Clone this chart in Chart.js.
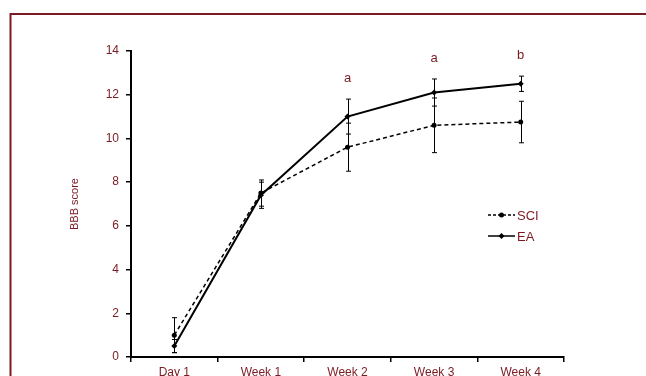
<!DOCTYPE html>
<html>
<head>
<meta charset="utf-8">
<script src="https://cdn.jsdelivr.net/npm/chart.js@4"></script>
<style>
  html, body { margin: 0; padding: 0; background: #fff; }
  #wrap { width: 646px; height: 376px; }
</style>
</head>
<body>
<div id="wrap"><canvas id="bbbChart" width="646" height="376"></canvas></div>
<script>
// data
const timepoints = ['Day 1', 'Week 1', 'Week 2', 'Week 3', 'Week 4'];
const sciMean = [1.0, 7.5, 9.6, 10.6, 10.75];
const sciErr = [0.8, 0.6, 1.1, 1.25, 0.95];
const eaMean = [0.5, 7.4, 11.0, 12.1, 12.5];
const eaErr = [0.3, 0.6, 0.8, 0.62, 0.35];
const sigLetters = ['', '', 'a', 'a', 'b'];
const yTicks = [0, 2, 4, 6, 8, 10, 12, 14];

const RED = '#7a1a22';
const FONT = 'Liberation Sans, Arial, sans-serif';

// frame, error bars, letters, y title and legend
const extrasPlugin = {
    id: 'extras',
    beforeDraw(chart) {
        const ctx = chart.ctx;
        ctx.save();
        ctx.strokeStyle = RED;
        ctx.lineWidth = 2;
        ctx.strokeRect(10.5, 14, 660, 400);
        ctx.restore();
    },
    afterDatasetsDraw(chart) {
        const ctx = chart.ctx;
        const x = chart.scales.x;
        const y = chart.scales.y;
        ctx.save();
        ctx.strokeStyle = '#000';
        ctx.lineWidth = 1;
        const bars = [[sciMean, sciErr], [eaMean, eaErr]];
        bars.forEach(([means, errs]) => {
            means.forEach((m, i) => {
                const px = Math.round(x.getPixelForValue(i)) + 0.5;
                const top = y.getPixelForValue(m + errs[i]);
                const bot = y.getPixelForValue(Math.max(0, m - errs[i]));
                ctx.beginPath();
                ctx.moveTo(px, top);
                ctx.lineTo(px, bot);
                ctx.moveTo(px - 2.5, top);
                ctx.lineTo(px + 2.5, top);
                ctx.moveTo(px - 2.5, bot);
                ctx.lineTo(px + 2.5, bot);
                ctx.stroke();
            });
        });

        // significance letters
        ctx.fillStyle = RED;
        ctx.font = '13px ' + FONT;
        ctx.textAlign = 'center';
        ctx.textBaseline = 'middle';
        sigLetters.forEach((s, i) => {
            if (!s) return;
            const top = y.getPixelForValue(Math.max(eaMean[i] + eaErr[i], sciMean[i] + sciErr[i]));
            ctx.fillText(s, x.getPixelForValue(i), top - 21);
        });

        // y axis title
        ctx.save();
        ctx.translate(75, 204);
        ctx.rotate(-Math.PI / 2);
        ctx.font = '11px ' + FONT;
        ctx.fillText('BBB score', 0, 0);
        ctx.restore();

        // legend
        const items = [
            { label: 'SCI', dash: [3, 2], style: 'circle', y: 215 },
            { label: 'EA', dash: [], style: 'rectRot', y: 236 }
        ];
        items.forEach(it => {
            ctx.strokeStyle = '#000';
            ctx.lineWidth = 1.5;
            ctx.setLineDash(it.dash);
            ctx.beginPath();
            ctx.moveTo(488, it.y);
            ctx.lineTo(515, it.y);
            ctx.stroke();
            ctx.setLineDash([]);
            ctx.fillStyle = '#000';
            if (it.style === 'circle') {
                ctx.beginPath();
                ctx.arc(501.5, it.y, 2.5, 0, Math.PI * 2);
                ctx.fill();
            } else {
                ctx.beginPath();
                ctx.moveTo(501.5, it.y - 3);
                ctx.lineTo(504.5, it.y);
                ctx.lineTo(501.5, it.y + 3);
                ctx.lineTo(498.5, it.y);
                ctx.closePath();
                ctx.fill();
            }
            ctx.fillStyle = RED;
            ctx.font = '13px ' + FONT;
            ctx.textAlign = 'left';
            ctx.fillText(it.label, 517, it.y + 1);
        });
        ctx.restore();
    }
};

const canvas = document.getElementById('bbbChart');
new Chart(canvas.getContext('2d'), {
    type: 'line',
    data: {
        labels: timepoints,
        datasets: [
            {
                label: 'SCI',
                data: sciMean,
                borderColor: '#000',
                backgroundColor: '#000',
                borderWidth: 1.5,
                borderDash: [4, 3],
                pointStyle: 'circle',
                pointRadius: 2.5,
                pointBorderWidth: 0,
                tension: 0
            },
            {
                label: 'EA',
                data: eaMean,
                borderColor: '#000',
                backgroundColor: '#000',
                borderWidth: 2,
                pointStyle: 'rectRot',
                pointRadius: 3,
                pointBorderWidth: 0,
                tension: 0
            }
        ]
    },
    options: {
        responsive: false,
        animation: false,
        layout: { padding: { left: 0, top: 51, right: 82, bottom: 0 } },
        plugins: {
            legend: { display: false },
            tooltip: { enabled: false }
        },
        scales: {
            x: {
                offset: true,
                afterFit: s => { s.height = 19; },
                grid: {
                    offset: true,
                    drawOnChartArea: false,
                    drawTicks: true,
                    tickLength: 5,
                    color: '#000',
                    lineWidth: 1.5
                },
                border: { display: true, color: '#000', width: 2 },
                ticks: { color: RED, font: { family: FONT, size: 12 }, padding: 3, maxRotation: 0 }
            },
            y: {
                min: 0,
                max: 14,
                afterFit: s => { s.width = 131; },
                afterBuildTicks: s => { s.ticks = yTicks.map(v => ({ value: v })); },
                grid: {
                    drawOnChartArea: false,
                    drawTicks: true,
                    tickLength: 5,
                    color: '#000',
                    lineWidth: 1.5
                },
                border: { display: true, color: '#000', width: 2 },
                ticks: { color: RED, font: { family: FONT, size: 12 }, padding: 7 }
            }
        }
    },
    plugins: [extrasPlugin]
});
</script>
</body>
</html>
